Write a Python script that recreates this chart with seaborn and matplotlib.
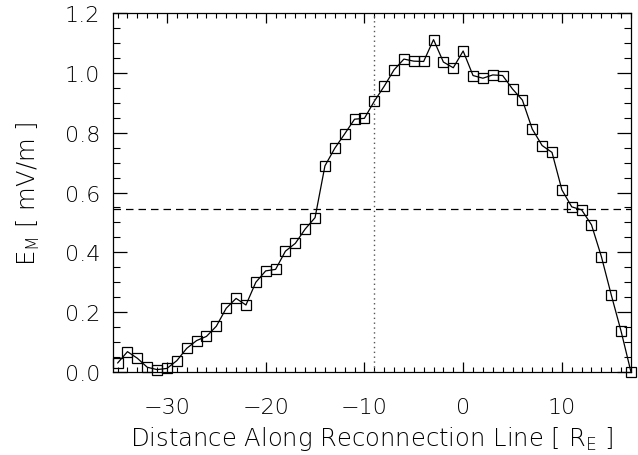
import matplotlib
matplotlib.use("Agg")
import matplotlib.pyplot as plt
from matplotlib.ticker import MultipleLocator
import seaborn as sns
import pandas as pd
import numpy as np

# Data
distance = list(range(-35, 18))
e_m = [0.030, 0.068, 0.046, 0.016, 0.008, 0.012, 0.038, 0.079, 0.105, 0.119,
       0.153, 0.213, 0.246, 0.224, 0.300, 0.338, 0.343, 0.404, 0.430, 0.478,
       0.516, 0.689, 0.748, 0.796, 0.845, 0.848, 0.905, 0.955, 1.010, 1.046,
       1.039, 1.038, 1.111, 1.036, 1.017, 1.073, 0.991, 0.982, 0.993, 0.991,
       0.946, 0.909, 0.812, 0.757, 0.734, 0.609, 0.552, 0.542, 0.492, 0.386,
       0.258, 0.136, 0.0]
threshold = 0.545
x_marker = -9
x_ticks = [-30, -20, -10, 0, 10]
y_ticks = [0.0, 0.2, 0.4, 0.6, 0.8, 1.0, 1.2]

df = pd.DataFrame({"x": distance, "y": e_m})

sns.set_style("ticks")
plt.rcParams["font.family"] = ["DejaVu Sans"]
plt.rcParams["font.weight"] = "light"
plt.rcParams["text.color"] = "black"
plt.rcParams["axes.labelcolor"] = "black"
plt.rcParams["xtick.color"] = "black"
plt.rcParams["ytick.color"] = "black"

fig = plt.figure(figsize=(6.38, 4.56), dpi=100)
ax = fig.add_axes([0.1766, 0.182, 0.989 - 0.1766, 0.9693 - 0.182])

sns.lineplot(data=df, x="x", y="y", ax=ax, color="black", linewidth=0.9,
             marker="s", markersize=7, markerfacecolor="none",
             markeredgecolor="black", markeredgewidth=0.9, clip_on=False)

ax.axhline(threshold, color="black", linestyle=(0, (6, 4)), linewidth=0.9)
ax.axvline(x_marker, color="#555555", linestyle=(0, (1, 2.5)), linewidth=1.0)

ax.set_xlim(-35.5, 17)
ax.set_ylim(0, 1.2)
ax.set_xticks(x_ticks)
ax.set_xticklabels([("\u2212" + str(abs(t))) if t < 0 else str(t) for t in x_ticks],
                   fontweight="light", color="black")
ax.set_yticks(y_ticks)
ax.set_yticklabels([f"{t:.1f}" for t in y_ticks], fontweight="light", color="black")
ax.xaxis.set_minor_locator(MultipleLocator(1))
ax.yaxis.set_minor_locator(MultipleLocator(0.05))

ax.tick_params(axis="x", which="major", direction="in", length=7, width=0.9,
               top=True, bottom=True, labelsize=16, pad=18, colors="black")
ax.tick_params(axis="x", which="minor", direction="in", length=3.5, width=0.8,
               top=True, bottom=True, colors="black")
ax.tick_params(axis="y", which="major", direction="in", length=10, width=0.9,
               left=True, right=True, labelsize=16, pad=9, colors="black")
ax.tick_params(axis="y", which="minor", direction="in", length=5, width=0.8,
               left=True, right=True, colors="black")

for s in ax.spines.values():
    s.set_linewidth(0.9)
    s.set_color("black")

ax.set_xlabel("Distance Along Reconnection Line [ R$_\\mathregular{E}$ ]",
              fontsize=17.5, labelpad=5, fontweight="light", color="black")
ax.set_ylabel("E$_\\mathregular{M}$ [ mV/m ]", fontsize=17.5, labelpad=16,
              fontweight="light", color="black")

fig.savefig("out.png", dpi=100)
